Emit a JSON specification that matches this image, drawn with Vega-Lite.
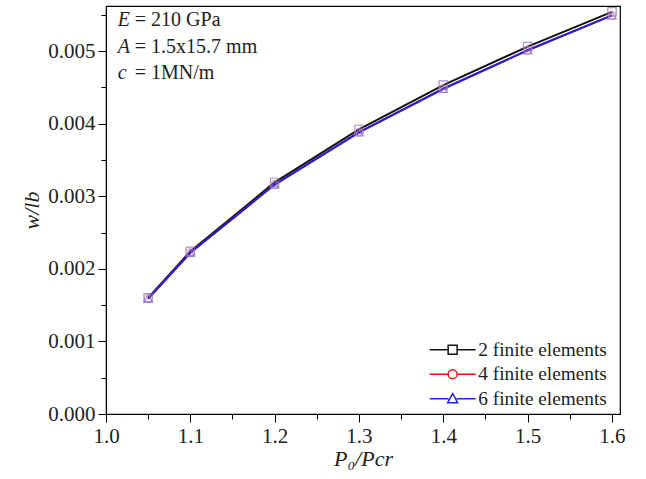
{
  "$schema": "https://vega.github.io/schema/vega-lite/v6.json",
  "width": 514,
  "height": 408,
  "autosize": "none",
  "padding": {"left": 106, "top": 6, "right": 26, "bottom": 65},
  "config": {
    "font": "Liberation Serif",
    "view": {"stroke": "black", "strokeWidth": 1.2},
    "axis": {"labelFont": "Liberation Serif", "titleFont": "Liberation Serif", "labelColor": "#222", "domainColor": "black", "tickColor": "black", "grid": false},
    "legend": {"labelFont": "Liberation Serif"}
  },
  "datasets": {
    "main": [
      {"series": "2 finite elements", "x": 1.05, "y": 0.00160},
      {"series": "2 finite elements", "x": 1.1, "y": 0.00224},
      {"series": "2 finite elements", "x": 1.2, "y": 0.00319},
      {"series": "2 finite elements", "x": 1.3, "y": 0.00392},
      {"series": "2 finite elements", "x": 1.4, "y": 0.00453},
      {"series": "2 finite elements", "x": 1.5, "y": 0.00506},
      {"series": "2 finite elements", "x": 1.6, "y": 0.00554},
      {"series": "4 finite elements", "x": 1.05, "y": 0.00159},
      {"series": "4 finite elements", "x": 1.1, "y": 0.00222},
      {"series": "4 finite elements", "x": 1.2, "y": 0.00316},
      {"series": "4 finite elements", "x": 1.3, "y": 0.00388},
      {"series": "4 finite elements", "x": 1.4, "y": 0.00448},
      {"series": "4 finite elements", "x": 1.5, "y": 0.00501},
      {"series": "4 finite elements", "x": 1.6, "y": 0.00549},
      {"series": "6 finite elements", "x": 1.05, "y": 0.00159},
      {"series": "6 finite elements", "x": 1.1, "y": 0.00222},
      {"series": "6 finite elements", "x": 1.2, "y": 0.00316},
      {"series": "6 finite elements", "x": 1.3, "y": 0.00388},
      {"series": "6 finite elements", "x": 1.4, "y": 0.00448},
      {"series": "6 finite elements", "x": 1.5, "y": 0.00501},
      {"series": "6 finite elements", "x": 1.6, "y": 0.00549}
    ],
    "notes": [
      {"x": 1.014, "y": 0.00543, "sym": "E", "rest": "= 210 GPa"},
      {"x": 1.014, "y": 0.00506, "sym": "A", "rest": "= 1.5x15.7 mm"},
      {"x": 1.014, "y": 0.00470, "sym": "c", "rest": "= 1MN/m"}
    ]
  },
  "encoding": {
    "x": {
      "field": "x", "type": "quantitative",
      "scale": {"domain": [1.0, 1.6095], "nice": false, "zero": false},
      "axis": {
        "title": "P₀/Pcr", "titleFontStyle": "italic", "titleFontWeight": "normal", "titleFontSize": 22, "titlePadding": 2, "titleFont": "Liberation Serif", "titleColor": "#222",
        "values": [1.0, 1.05, 1.1, 1.15, 1.2, 1.25, 1.3, 1.35, 1.4, 1.45, 1.5, 1.55, 1.6],
        "labelExpr": "abs(round(datum.value*10) - datum.value*10) < 0.001 ? format(datum.value, '.1f') : ''",
        "labelFont": "Liberation Serif", "labelFontSize": 21, "labelPadding": 3,
        "tickSize": {"condition": {"test": "abs(round(datum.value*10) - datum.value*10) < 0.001", "value": 8}, "value": 5},
        "labelFlush": false
      }
    },
    "y": {
      "field": "y", "type": "quantitative",
      "scale": {"domain": [0, 0.00562], "nice": false},
      "axis": {
        "title": "w/lb", "titleFontStyle": "italic", "titleFontWeight": "normal", "titleFontSize": 22, "titlePadding": 4, "titleFont": "Liberation Serif", "titleColor": "#222",
        "values": [0, 0.0005, 0.001, 0.0015, 0.002, 0.0025, 0.003, 0.0035, 0.004, 0.0045, 0.005, 0.0055],
        "labelExpr": "abs(round(datum.value*1000) - datum.value*1000) < 0.001 ? format(datum.value, '.3f') : ''",
        "labelFont": "Liberation Serif", "labelFontSize": 21, "labelPadding": 3,
        "tickSize": {"condition": {"test": "abs(round(datum.value*1000) - datum.value*1000) < 0.001", "value": 8}, "value": 5}
      }
    }
  },
  "resolve": {"scale": {"color": "independent", "shape": "independent"}, "legend": {"color": "independent", "shape": "independent"}},
  "layer": [
    {
      "data": {"name": "main"},
      "mark": {"type": "line", "strokeWidth": 2},
      "encoding": {
        "color": {"field": "series", "type": "nominal", "scale": {"domain": ["2 finite elements", "4 finite elements", "6 finite elements"], "range": ["#111111", "#ee1111", "#2222dd"]}, "legend": null}
      }
    },
    {
      "data": {"name": "main"},
      "transform": [{"filter": "datum.series == '2 finite elements'"}],
      "mark": {"type": "point", "shape": "square", "filled": false, "size": 70, "strokeWidth": 1.2, "color": "#8866aa"}
    },
    {
      "data": {"name": "main"},
      "transform": [{"filter": "datum.series == '4 finite elements'"}],
      "mark": {"type": "point", "shape": "circle", "filled": false, "size": 60, "strokeWidth": 1.2, "color": "#cc88aa"}
    },
    {
      "data": {"name": "main"},
      "transform": [{"filter": "datum.series == '6 finite elements'"}],
      "mark": {"type": "point", "shape": "triangle-up", "filled": false, "size": 70, "strokeWidth": 1.3, "color": "#8866cc"}
    },
    {
      "data": {"name": "main"},
      "mark": {"type": "point", "filled": false, "size": 100, "strokeWidth": 1.5, "opacity": 0},
      "encoding": {
        "color": {"field": "series", "type": "nominal",
          "scale": {"domain": ["2 finite elements", "4 finite elements", "6 finite elements"], "range": ["#111111", "#ee1111", "#2222dd"]},
          "legend": {"title": null, "orient": "none", "legendX": 337, "legendY": 334, "labelFontSize": 19.3, "labelColor": "#222", "labelOffset": 16, "rowPadding": 4.5, "symbolOpacity": 1, "symbolStrokeWidth": 1.5}},
        "shape": {"field": "series", "type": "nominal",
          "scale": {"domain": ["2 finite elements", "4 finite elements", "6 finite elements"],
            "range": [
              "M-4.6,0H-0.9M0.9,0H4.6M-0.9,-0.9H0.9V0.9H-0.9Z",
              "M-4.6,0H-0.9M0.9,0H4.6M-0.9,0A0.9,0.9 0 1,0 0.9,0A0.9,0.9 0 1,0 -0.9,0Z",
              "M-4.6,0H-0.8M0.8,0H4.6M0,-1L1,0.8L-1,0.8Z"
            ]},
          "legend": {"title": null, "orient": "none", "legendX": 337, "legendY": 334, "labelFontSize": 19.3, "labelColor": "#222", "labelOffset": 16, "rowPadding": 4.5, "symbolOpacity": 1, "symbolStrokeWidth": 1.5}}
      }
    },
    {
      "data": {"name": "notes"},
      "mark": {"type": "text", "align": "left", "baseline": "middle", "fontSize": 20, "fontStyle": "italic", "font": "Liberation Serif", "color": "#222"},
      "encoding": {"text": {"field": "sym"}}
    },
    {
      "data": {"name": "notes"},
      "mark": {"type": "text", "align": "left", "baseline": "middle", "fontSize": 20, "dx": 17, "font": "Liberation Serif", "color": "#222"},
      "encoding": {"text": {"field": "rest"}}
    }
  ]
}
